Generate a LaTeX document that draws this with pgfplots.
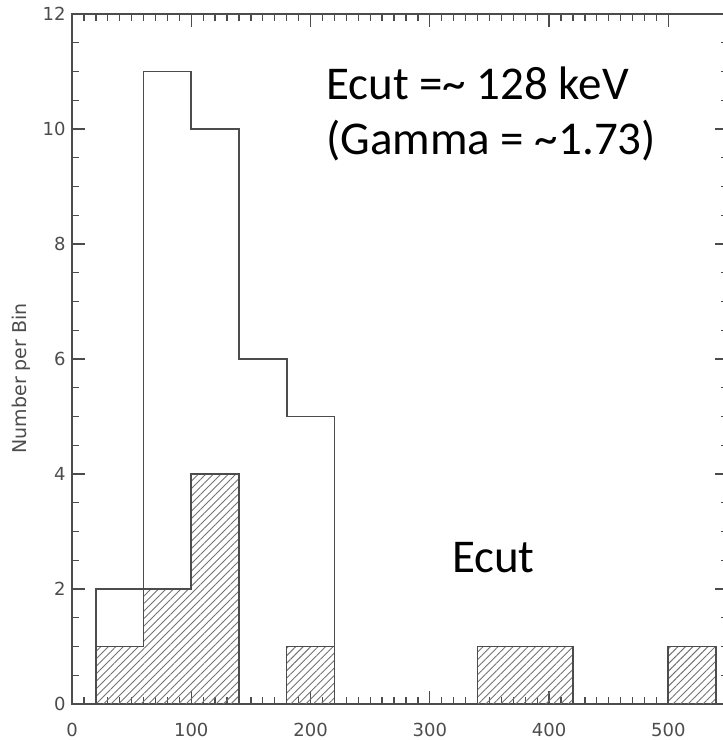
\documentclass[border=0pt]{standalone}
\usepackage{pgfplots}
\pgfplotsset{compat=1.18}
\usetikzlibrary{patterns.meta}
\usepackage{fontspec}
\setmainfont{DejaVu Sans}
\newfontfamily\notefont{Carlito}

\definecolor{inkgray}{gray}{0.30}

\begin{document}
\begin{tikzpicture}
\begin{axis}[
  at={(0,0)}, anchor=south west,
  scale only axis, width=656bp, height=690bp,
  xmin=0, xmax=550, ymin=0, ymax=12,
  xtick={0,100,...,500}, minor x tick num=9,
  ytick={0,2,...,12}, minor y tick num=3,
  tick align=inside,
  major tick length=13bp, minor tick length=7bp,
  axis line style={draw=inkgray, line width=1.7bp},
  every tick/.style={draw=inkgray, line width=1.3bp},
  /pgf/number format/assume math mode=true,
  tick label style={font=\fontsize{18bp}{20bp}\selectfont, text=black!70},
  xticklabel style={yshift=-16bp},
  yticklabel style={xshift=-3bp},
  ylabel={Number per Bin},
  ylabel style={at={(axis description cs:-0.078,0.472)}, anchor=center,
    font=\fontsize{19bp}{21bp}\selectfont, text=black!70},
  clip=false,
]
% subsample (hatched), drawn as a closed step outline
\addplot[const plot, draw=inkgray, line width=1.6bp,
  pattern={Lines[angle=45, distance=5.3bp, line width=0.9bp]}, pattern color=black!55]
  coordinates {(20,0) (20,1) (60,2) (100,4) (140,0) (180,1) (220,0)
               (340,1) (420,0) (500,1) (540,0)};
% full sample, open step outline
\addplot[const plot, draw=inkgray, line width=1.8bp]
  coordinates {(20,0) (20,2) (60,11) (100,10) (140,6) (180,5) (220,0)
               (340,1) (420,0) (500,1) (540,0)};
\node[anchor=base west, inner sep=0, align=left,
  font=\notefont\fontsize{47bp}{55bp}\selectfont]
  at (axis cs:213,9.55) {Ecut =\textasciitilde{} 128 keV\\(Gamma = \textasciitilde1.73)};
\node[anchor=base west, inner sep=0, font=\notefont\fontsize{47bp}{55bp}\selectfont]
  at (axis cs:318.5,2.28) {Ecut};
\end{axis}
\pgfresetboundingbox
\path[use as bounding box] (-72bp,-36bp) rectangle (651bp,704bp);
\end{tikzpicture}
\end{document}
